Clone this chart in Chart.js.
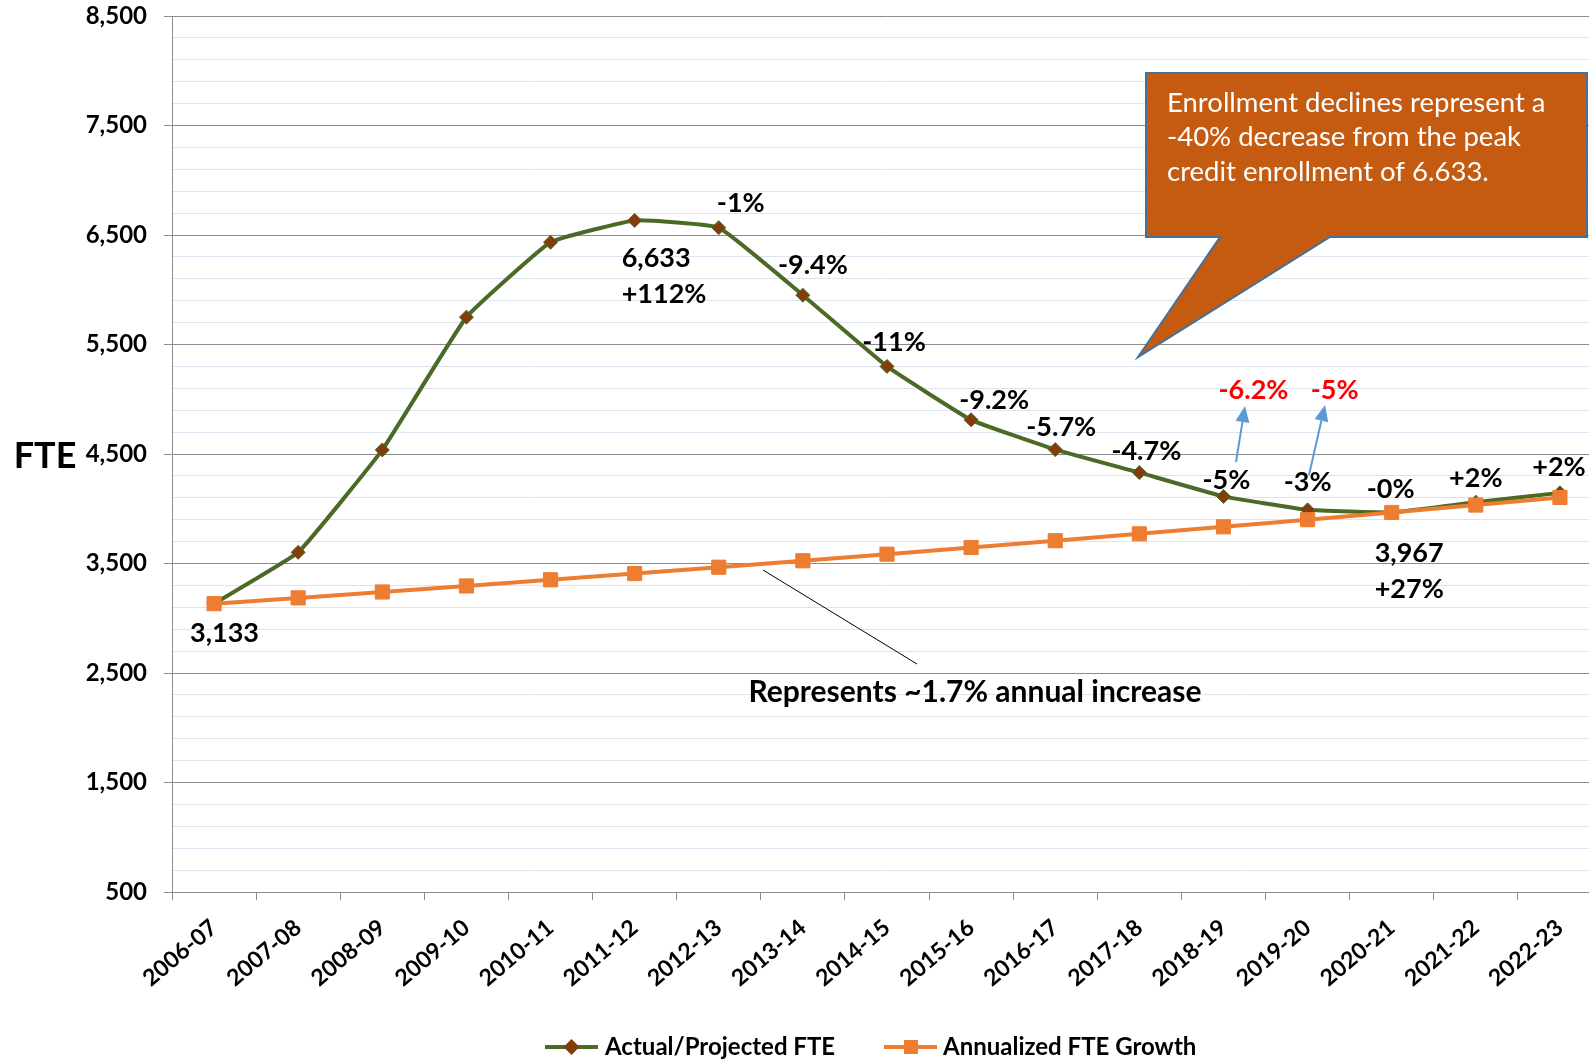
<!DOCTYPE html>
<html>
<head>
<meta charset="utf-8">
<title>FTE enrollment</title>
<script src="https://cdn.jsdelivr.net/npm/chart.js@4.4.1/dist/chart.umd.min.js"></script>
<style>
    html, body { margin: 0; padding: 0; background: #fff; overflow: hidden; }
    #wrap { width: 1589px; height: 1061px; overflow: hidden; }
    canvas { display: block; }
</style>
</head>
<body>
<div id="wrap"><canvas id="fteChart" width="1746" height="1061"></canvas></div>
<script>
// Dados
const years = ['2006-07', '2007-08', '2008-09', '2009-10', '2010-11', '2011-12', '2012-13', '2013-14', '2014-15',
    '2015-16', '2016-17', '2017-18', '2018-19', '2019-20', '2020-21', '2021-22', '2022-23'];
const actualFte = [3133, 3602, 4537, 5750, 6434, 6633, 6567, 5950, 5300, 4812, 4540, 4330, 4113, 3990, 3967, 4060, 4145];
const growthFte = [3133, 3186, 3240, 3295, 3351, 3408, 3466, 3525, 3585, 3646, 3708, 3771, 3835, 3900, 3966, 4034, 4103];
const changeLabels = ['', '', '', '', '', '', '-1%', '-9.4%', '-11%', '-9.2%', '-5.7%', '-4.7%', '-5%', '-3%', '-0%', '+2%', '+2%'];
const revisedLabels = ['', '', '', '', '', '', '', '', '', '', '', '', '-6.2%', '-5%', '', '', ''];
const yMin = 500;
const yMax = 8500;
const yMajorStep = 1000;
const yMinorStep = 200;
const calloutLines = ['Enrollment declines represent a', '-40% decrease from the peak', 'credit enrollment of 6.633.'];
const trendNote = 'Represents ~1.7% annual increase';

const FONT = 'Lato, "Open Sans", sans-serif';
const GREEN = '#4a6a26';
const BROWN = '#843c0c';
const ORANGE = '#ed7d31';
const GRID_MAJOR = '#8c8c8c';
const GRID_MINOR = '#dbe5f1';

// deslocamentos (px) dos rótulos de variação em relação ao ponto
const changeOffsets = {
    6: [22, -24], 7: [10, -30], 8: [7, -24], 9: [23, -20], 10: [6, -22], 11: [7, -21],
    12: [3, -16], 13: [0, -28], 14: [-1, -23], 15: [0, -24], 16: [-1, -26]
};

function isMajor(v) {
    return (v - yMin) % yMajorStep === 0;
}

function drawArrow(ctx, x1, y1, x2, y2, color) {
    const ang = Math.atan2(y2 - y1, x2 - x1);
    const head = 16, half = 7;
    ctx.save();
    ctx.strokeStyle = color;
    ctx.fillStyle = color;
    ctx.lineWidth = 2;
    ctx.beginPath();
    ctx.moveTo(x1, y1);
    ctx.lineTo(x2 - Math.cos(ang) * head, y2 - Math.sin(ang) * head);
    ctx.stroke();
    ctx.beginPath();
    ctx.moveTo(x2, y2);
    ctx.lineTo(x2 - Math.cos(ang) * head - Math.sin(ang) * half, y2 - Math.sin(ang) * head + Math.cos(ang) * half);
    ctx.lineTo(x2 - Math.cos(ang) * head + Math.sin(ang) * half, y2 - Math.sin(ang) * head - Math.cos(ang) * half);
    ctx.closePath();
    ctx.fill();
    ctx.restore();
}

// Plugin para anotações, balão e legenda
const notesPlugin = {
    id: 'fteNotes',
    afterDraw(chart) {
        const ctx = chart.ctx;
        const xs = chart.scales.x;
        const ys = chart.scales.y;
        const px = i => xs.getPixelForValue(i);
        const py = v => ys.getPixelForValue(v);

        ctx.save();
        ctx.textBaseline = 'middle';

        // título do eixo
        ctx.fillStyle = '#000';
        ctx.font = 'bold 36px ' + FONT;
        ctx.textAlign = 'center';
        ctx.fillText('FTE', 45, 456);

        // rótulos de variação
        ctx.font = 'bold 27px ' + FONT;
        changeLabels.forEach((txt, i) => {
            if (!txt) return;
            const off = changeOffsets[i] || [0, -24];
            ctx.fillText(txt, px(i) + off[0], py(actualFte[i]) + off[1]);
        });

        // valores de destaque
        ctx.textAlign = 'left';
        ctx.fillText('3,133', px(0) - 24, py(actualFte[0]) + 30);
        ctx.fillText('6,633', px(5) - 13, py(actualFte[5]) + 38);
        ctx.fillText('+112%', px(5) - 13, py(actualFte[5]) + 74);
        ctx.fillText('3,967', px(14) - 17, py(actualFte[14]) + 41);
        ctx.fillText('+27%', px(14) - 17, py(actualFte[14]) + 77);

        // valores revisados em vermelho
        ctx.textAlign = 'center';
        ctx.fillStyle = '#ff0000';
        revisedLabels.forEach((txt, i) => {
            if (!txt) return;
            ctx.fillText(txt, px(i) + (i === 12 ? 30 : 27), 390);
        });
        drawArrow(ctx, 1236, 462, 1245, 406, '#5b9bd5');
        drawArrow(ctx, 1309, 475, 1325, 405, '#5b9bd5');

        // nota da tendência
        ctx.strokeStyle = '#000';
        ctx.lineWidth = 1;
        ctx.beginPath();
        ctx.moveTo(763, 570);
        ctx.lineTo(917, 664);
        ctx.stroke();
        ctx.fillStyle = '#000';
        ctx.font = 'bold 30px ' + FONT;
        ctx.fillText(trendNote, 975, 692);

        // balão
        ctx.beginPath();
        ctx.moveTo(1146, 73);
        ctx.lineTo(1587, 73);
        ctx.lineTo(1587, 237);
        ctx.lineTo(1330, 237);
        ctx.lineTo(1138, 357);
        ctx.lineTo(1220, 237);
        ctx.lineTo(1146, 237);
        ctx.closePath();
        ctx.fillStyle = '#c55a11';
        ctx.fill();
        ctx.strokeStyle = '#41719c';
        ctx.lineWidth = 2;
        ctx.stroke();
        ctx.fillStyle = '#fff';
        ctx.font = '27.5px ' + FONT;
        ctx.textAlign = 'left';
        ctx.textBaseline = 'alphabetic';
        calloutLines.forEach((line, k) => ctx.fillText(line, 1167, 112 + k * 34.3));

        // legenda
        const ly = 1047;
        ctx.lineWidth = 4;
        ctx.strokeStyle = GREEN;
        ctx.beginPath(); ctx.moveTo(545, ly); ctx.lineTo(598, ly); ctx.stroke();
        ctx.fillStyle = BROWN;
        ctx.beginPath();
        ctx.moveTo(571.5, ly - 8); ctx.lineTo(579.5, ly); ctx.lineTo(571.5, ly + 8); ctx.lineTo(563.5, ly);
        ctx.closePath(); ctx.fill();
        ctx.strokeStyle = ORANGE;
        ctx.beginPath(); ctx.moveTo(884, ly); ctx.lineTo(937, ly); ctx.stroke();
        ctx.fillStyle = ORANGE;
        ctx.fillRect(904, ly - 7, 14, 14);
        ctx.fillStyle = '#000';
        ctx.font = 'bold 24px ' + FONT;
        ctx.textBaseline = 'middle';
        ctx.fillText('Actual/Projected FTE', 605, ly);
        ctx.fillText('Annualized FTE Growth', 943, ly);

        ctx.restore();
    }
};

const ctx = document.getElementById('fteChart').getContext('2d');
new Chart(ctx, {
    type: 'line',
    data: {
        labels: years,
        datasets: [{
            label: 'Actual/Projected FTE',
            data: actualFte,
            borderColor: GREEN,
            borderWidth: 4,
            tension: 0.1,
            pointStyle: 'rectRot',
            pointRadius: 7,
            pointBackgroundColor: BROWN,
            pointBorderColor: GREEN,
            pointBorderWidth: 1,
            order: 2
        }, {
            label: 'Annualized FTE Growth',
            data: growthFte,
            borderColor: ORANGE,
            borderWidth: 4,
            tension: 0,
            pointStyle: 'rect',
            pointRadius: 10,
            pointBackgroundColor: ORANGE,
            pointBorderColor: ORANGE,
            pointBorderWidth: 1,
            order: 1
        }]
    },
    options: {
        responsive: false,
        animation: false,
        devicePixelRatio: 1,
        layout: { padding: { top: 16, right: 144, bottom: 0, left: 0 } },
        plugins: {
            legend: { display: false },
            tooltip: { enabled: false }
        },
        scales: {
            x: {
                offset: true,
                grid: {
                    offset: true,
                    drawOnChartArea: false,
                    drawTicks: true,
                    tickLength: 8,
                    color: GRID_MAJOR
                },
                border: { color: GRID_MAJOR, width: 1 },
                ticks: {
                    autoSkip: false,
                    minRotation: 40,
                    maxRotation: 40,
                    padding: 14,
                    color: '#000',
                    font: { family: FONT, size: 23, weight: 'bold' }
                },
                afterFit(scale) {
                    scale.height = 169;
                    scale.paddingLeft = 0;
                    scale.paddingRight = 0;
                }
            },
            y: {
                min: yMin,
                max: yMax,
                ticks: {
                    stepSize: yMinorStep,
                    autoSkip: false,
                    padding: 17,
                    color: '#000',
                    font: { family: FONT, size: 24, weight: 'bold' },
                    callback: v => isMajor(v) ? v.toLocaleString('en-US') : ''
                },
                grid: {
                    tickLength: 8,
                    color: c => isMajor(c.tick.value) ? GRID_MAJOR : GRID_MINOR,
                    tickColor: c => isMajor(c.tick.value) ? GRID_MAJOR : 'rgba(0,0,0,0)'
                },
                border: { color: GRID_MAJOR, width: 1 },
                afterFit(scale) {
                    scale.width = 172;
                    scale.paddingTop = 0;
                    scale.paddingBottom = 0;
                }
            }
        }
    },
    plugins: [notesPlugin]
});
</script>
</body>
</html>
